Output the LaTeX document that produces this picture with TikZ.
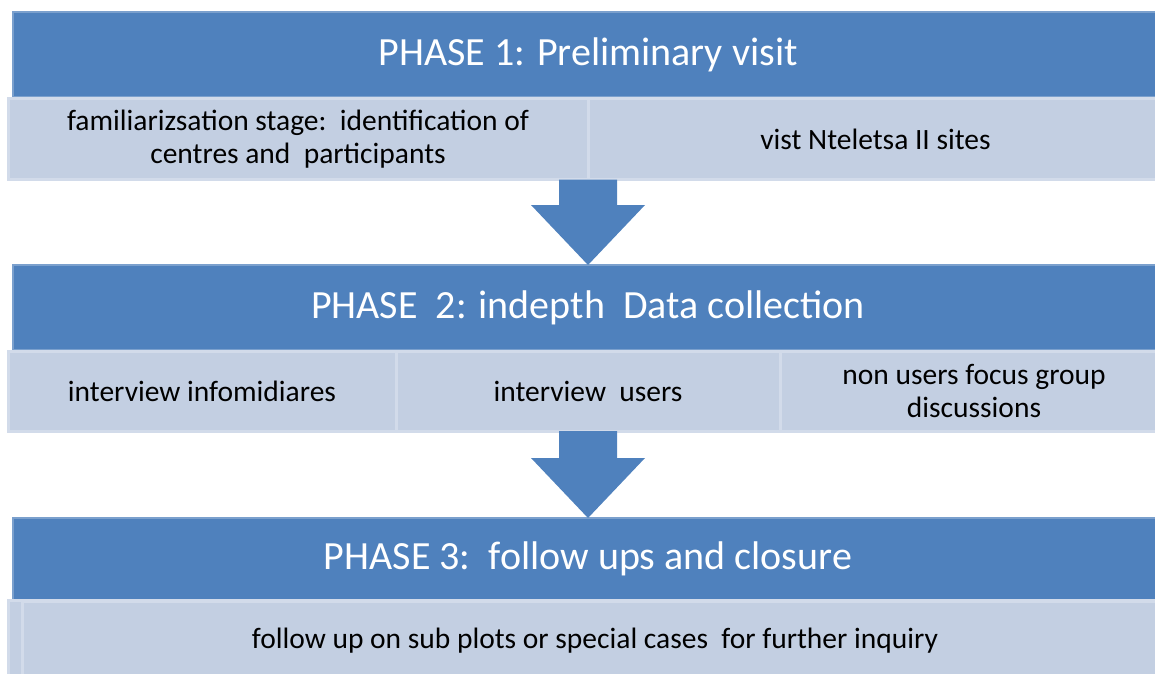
\documentclass[tikz,border=0pt]{standalone}
\usepackage{fontspec}
\setmainfont{Carlito}
\usetikzlibrary{calc}

\definecolor{phaseblue}{HTML}{4F81BD}
\definecolor{cellfill}{HTML}{C3CFE2}
\definecolor{cellline}{HTML}{D2DBEA}

% block arrow from the bottom of one row down to the next phase bar
\def\blockarrow(#1)(#2){\fill[phaseblue] ($(#2 |- #1)+(-29,0)$) -- ($(#2 |- #1)+(29,0)$) -- ($(#2)+(29,-60)$) -- ($(#2)+(57,-60)$) -- (#2) -- ($(#2)+(-57,-60)$) -- ($(#2)+(-29,-60)$) -- cycle;}

\begin{document}
\begin{tikzpicture}[x=1pt, y=-1pt,
	phase/.style={fill=phaseblue, draw=phaseblue!75!white, line width=1.5pt, text=white, inner sep=0pt, outer sep=0pt, font=\fontsize{40}{48}\selectfont},
	stepbox/.style={fill=cellfill, draw=cellline, line width=3pt, text=black, inner sep=0pt, outer sep=0pt, align=center, font=\fontsize{29.5}{33.5}\selectfont}]
	%%%%% START %%%%%
	\useasboundingbox (0,0) rectangle (1155,673);
	
	% phase 1
	\node[phase, minimum width=1150pt, minimum height=85pt] (ph1) at (588,54.5) {PHASE 1: Preliminary visit};
	\node[stepbox, minimum width=580pt, minimum height=81pt] (ph1a) at (298,139) {familiarizsation stage:\ \ identification of\\centres and\ \ participants};
	\node[stepbox, minimum width=575pt, minimum height=81pt] (ph1b) at (875.5,139) {vist Nteletsa II sites};
	
	% phase 2
	\node[phase, minimum width=1150pt, minimum height=85pt] (ph2) at (588,307.5) {PHASE\ \ 2: indepth\ \ Data collection};
	\node[stepbox, minimum width=388pt, minimum height=80pt] (ph2a) at (202,391) {interview infomidiares};
	\node[stepbox, minimum width=384pt, minimum height=80pt] (ph2b) at (588,391) {interview\ \ users};
	\node[stepbox, minimum width=388pt, minimum height=80pt] (ph2c) at (974,391) {non users focus group\\discussions};
	
	% phase 3
	\node[phase, minimum width=1150pt, minimum height=82pt] (ph3) at (588,559) {PHASE 3:\ \ follow ups and closure};
	\draw[stepbox] (8,600) rectangle (1168,690);
	\node[stepbox, minimum width=1146pt, minimum height=80pt] (ph3a) at (595,641) {follow up on sub plots or special cases\ \ for further inquiry};
	
	% arrows between the phases
	\blockarrow(ph1a.south east)(ph2.north)
	\blockarrow(ph2b.south)(ph3.north)
	%%%%% END %%%%%
\end{tikzpicture}
\end{document}
